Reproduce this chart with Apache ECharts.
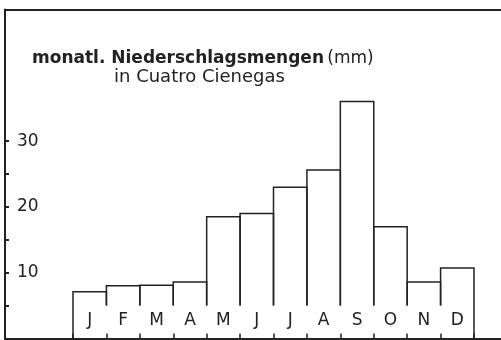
<!DOCTYPE html>
<html lang="de">
<head>
  <meta charset="UTF-8">
  <title>Niederschlag Cuatro Cienegas</title>
  <style>
    body { margin: 0; background: #fff; }
  </style>
</head>
<body>
  <div id="main" style="width:501px;height:340px;"></div>

  <script src="https://cdn.jsdelivr.net/npm/echarts@6/dist/echarts.min.js"></script>
  <script>
    var myChart = echarts.init(document.getElementById('main'))

    // Monate und Niederschlag (mm)
    var months = ['J', 'F', 'M', 'A', 'M', 'J', 'J', 'A', 'S', 'O', 'N', 'D']
    var rain = [7.1, 8.0, 8.1, 8.6, 18.5, 19.0, 23.0, 25.6, 36.0, 17.0, 8.6, 10.7]
    var yTicks = [5, 10, 15, 20, 25, 30]
    var yLabels = [10, 20, 30]

    var ink = '#222'
    var font = 'DejaVu Sans'
    var dividerFloor = 5 // Trennlinien enden über der Monatsleiste
    var frameLine = { show: true, lineStyle: { color: ink, width: 2 } }

    var options = {
      animation: false,
      grid: [
        // Rahmen: links, oben, unten (rechts offen)
        { left: 5, right: 0, top: 9.5, bottom: 1.5 },
        // Säulen
        { left: 73, right: 27, top: 9.5, bottom: 1.5 }
      ],
      xAxis: [
        { gridIndex: 0, type: 'value', position: 'bottom', axisLine: frameLine,
          axisTick: { show: false }, axisLabel: { show: false }, splitLine: { show: false } },
        {
          gridIndex: 1,
          type: 'category',
          data: months,
          axisLine: frameLine,
          axisTick: { show: true, inside: true, length: 5, lineStyle: { color: ink, width: 1.5 } },
          axisLabel: { inside: true, margin: 9, color: ink, fontFamily: font, fontSize: 17 }
        },
        { gridIndex: 0, type: 'value', position: 'top', axisLine: frameLine,
          axisTick: { show: false }, axisLabel: { show: false }, splitLine: { show: false } }
      ],
      yAxis: [
        {
          gridIndex: 0,
          type: 'value',
          min: 0, max: 50, interval: 5,
          splitLine: { show: false },
          axisLine: frameLine,
          axisTick: { inside: true, length: 4, customValues: yTicks, lineStyle: { color: ink, width: 2 } },
          axisLabel: { inside: true, margin: 12, customValues: yLabels, color: ink, fontFamily: font, fontSize: 17 }
        },
        { gridIndex: 1, type: 'value', min: 0, max: 50, show: false }
      ],
      graphic: [
        {
          type: 'text', left: 32, top: 50,
          style: {
            text: '{b|monatl. Niederschlagsmengen} {n|(mm)}',
            rich: {
              b: { fontFamily: font, fontSize: 17, fontWeight: 'bold', fill: ink },
              n: { fontFamily: font, fontSize: 17, fill: ink }
            }
          }
        },
        {
          type: 'text', left: 114, top: 68,
          style: { text: 'in Cuatro Cienegas', fontFamily: font, fontSize: 18, fill: ink }
        }
      ],
      series: [
        {
          type: 'custom',
          xAxisIndex: 1,
          yAxisIndex: 1,
          data: rain.map(function (v, i) { return [i, v] }),
          renderItem: function (params, api) {
            var i = api.value(0)
            var top = api.coord([i, api.value(1)])
            var w = api.size([1, 0])[0]
            var base = api.coord([i, 0])[1]
            var floor = api.coord([i, dividerFloor])[1]
            var x0 = top[0] - w / 2
            var x1 = top[0] + w / 2
            var yl = i === 0 ? base : floor
            var yr = i === rain.length - 1 ? base : floor
            return {
              type: 'polyline',
              shape: { points: [[x0, yl], [x0, top[1]], [x1, top[1]], [x1, yr]] },
              style: { stroke: ink, lineWidth: 1.5, fill: null }
            }
          }
        }
      ]
    }
    myChart.setOption(options)
  </script>
</body>
</html>
